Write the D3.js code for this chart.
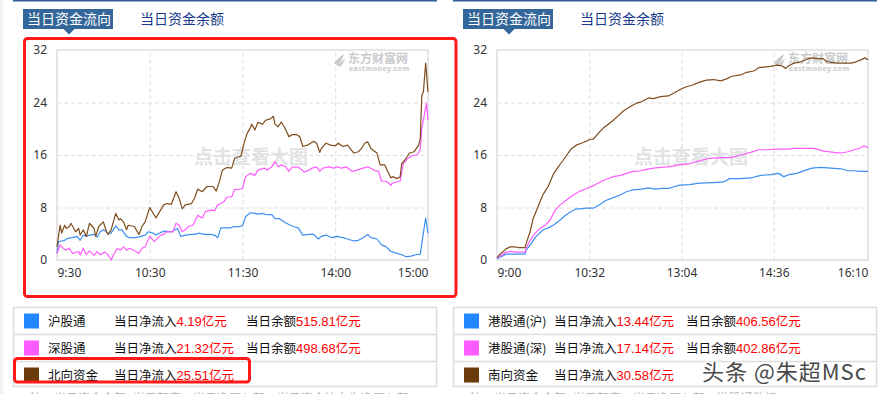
<!DOCTYPE html>
<html>
<head>
<meta charset="utf-8">
<script src="https://cdn.jsdelivr.net/npm/d3@7"></script>
<style>
body { margin: 0; background: #fff; }
svg { display: block; }
</style>
</head>
<body>
<script>
/* Data (x = minutes since the session opened, lunch break removed)
***********************************************************************/
var yTicks = [0, 8, 16, 24, 32];

var northTickMins = [0, 60, 120, 180, 240];
var northTickLabels = ["9:30", "10:30", "11:30", "14:00", "15:00"];
var southTickMins = [0, 92, 184, 276, 370];
var southTickLabels = ["9:00", "10:32", "13:04", "14:36", "16:10"];

// 沪股通
var shFlow = [[0,1.0],[1,2.8],[3,2.9],[5,3.0],[7,3.3],[10,3.4],[13,3.6],[15,3.0],[17,3.8],[19,3.6],[21,3.8],[24,3.9],[26,3.5],[28,4.3],[30,4.6],[32,4.3],[33,4.0],[35,4.1],[38,5.2],[40,4.6],[42,4.6],[45,3.6],[47,3.4],[51,3.4],[54,3.6],[57,3.8],[59,4.3],[62,4.1],[64,3.8],[67,4.2],[70,4.4],[74,4.3],[78,4.8],[80,3.6],[83,3.8],[87,3.9],[89,3.9],[92,4.1],[95,3.9],[99,3.9],[102,3.8],[104,3.4],[106,4.9],[108,4.9],[112,4.9],[115,5.1],[118,5.1],[120,5.2],[122,6.6],[125,7.2],[128,7.1],[130,7.0],[133,7.1],[136,6.9],[139,6.9],[141,6.3],[144,6.3],[147,5.8],[150,5.4],[153,5.1],[156,4.9],[159,3.8],[163,3.9],[166,3.9],[169,3.2],[171,3.6],[174,3.8],[178,3.4],[181,3.6],[185,3.4],[188,3.2],[192,2.9],[195,3.0],[198,3.4],[201,3.9],[203,3.4],[207,3.2],[210,2.3],[213,2.0],[216,1.3],[220,1.0],[223,0.8],[226,0.5],[229,0.6],[232,0.8],[235,0.9],[237,4.1],[238.5,6.4],[240,4.1]];

// 深股通
var szFlow = [[0,1.0],[2,2.3],[4,1.8],[6,1.5],[8,1.8],[10,1.0],[14,1.3],[15,0.8],[17,1.8],[19,0.8],[21,1.4],[24,0.7],[26,1.3],[28,0.8],[31,1.2],[33,0.8],[35,0.0],[37,1.0],[39,1.8],[41,1.5],[43,2.0],[45,1.5],[47,1.8],[51,1.3],[53,1.0],[55,1.8],[57,2.0],[60,3.6],[63,2.8],[65,3.3],[67,3.8],[69,3.9],[71,4.3],[75,4.3],[77,5.6],[79,5.3],[81,4.3],[83,4.6],[85,5.1],[88,5.3],[91,6.8],[94,6.4],[96,7.4],[100,7.6],[102,7.5],[104,8.4],[106,8.6],[108,8.9],[110,9.6],[113,9.6],[115,10.8],[117,10.7],[120,10.9],[122,12.7],[125,13.2],[128,12.9],[130,13.7],[134,14.0],[136,13.7],[139,14.2],[141,15.0],[143,14.2],[145,14.5],[148,14.2],[150,13.5],[152,14.1],[155,14.2],[157,14.0],[160,13.4],[163,13.7],[165,14.0],[168,14.2],[170,13.5],[172,14.0],[176,14.2],[179,14.0],[181,14.2],[184,14.0],[187,14.2],[191,13.5],[194,13.7],[198,14.0],[201,14.2],[205,13.7],[208,13.5],[210,12.0],[213,12.0],[216,11.4],[217,11.7],[221,12.0],[222,12.0],[224,14.7],[227,15.5],[230,15.9],[233,16.0],[235,16.8],[236,20.1],[238,22.6],[239,23.9],[240,21.3]];

// 北向资金
var northFlow = [[0,2.0],[2,5.3],[3,4.1],[5,5.3],[6,4.8],[8,5.1],[9,5.6],[12,4.3],[14,4.8],[15,3.8],[17,4.6],[19,3.6],[21,5.6],[24,4.8],[25,3.6],[27,5.1],[30,5.8],[32,4.3],[33,3.9],[35,4.6],[38,7.1],[40,6.1],[41,6.3],[43,5.8],[45,4.6],[46,5.3],[50,5.1],[53,3.9],[55,5.1],[57,5.8],[60,8.0],[64,6.4],[67,7.6],[69,8.4],[71,8.6],[74,8.5],[77,10.4],[79,9.4],[81,7.8],[83,8.4],[87,8.6],[89,9.4],[91,10.8],[94,10.4],[97,11.2],[101,11.2],[103,10.5],[105,11.9],[107,13.7],[110,14.1],[113,14.0],[115,15.5],[117,15.7],[119,15.8],[121,17.8],[123,19.3],[125,20.1],[126,20.7],[128,19.8],[130,21.0],[133,20.7],[135,21.3],[138,21.5],[140,21.9],[141,20.7],[143,20.3],[145,21.0],[147,20.3],[149,19.3],[150,18.8],[152,19.1],[155,19.1],[157,18.8],[159,17.3],[162,17.5],[164,17.8],[166,18.1],[168,17.8],[170,16.4],[171,17.0],[174,17.8],[177,17.5],[180,17.4],[182,17.8],[185,17.3],[188,17.5],[192,16.3],[195,16.5],[197,17.0],[199,17.8],[201,18.0],[203,17.0],[207,16.3],[209,14.5],[212,14.5],[214,13.5],[216,12.5],[217,12.7],[220,12.4],[222,12.7],[223,14.7],[225,15.2],[228,16.3],[231,16.5],[234,17.5],[235,18.5],[236,25.1],[237,25.6],[238.5,30.0],[240,25.6]];

// 港股通(沪)
var hkshFlow = [[0,0.2],[4,0.5],[9,0.9],[16,0.9],[28,0.9],[29,1.5],[34,2.5],[39,3.6],[46,4.6],[51,4.9],[56,5.3],[63,6.1],[69,6.9],[74,7.4],[79,7.8],[84,7.8],[89,7.9],[96,7.9],[103,8.5],[109,9.1],[116,9.5],[123,9.9],[129,10.4],[136,10.7],[144,10.8],[151,11.0],[158,10.8],[164,10.9],[171,10.9],[182,11.4],[192,11.5],[202,11.7],[216,11.8],[226,11.9],[232,12.4],[242,12.4],[253,12.5],[263,12.9],[273,13.0],[281,13.2],[286,12.7],[291,13.0],[299,13.2],[308,13.7],[314,14.0],[323,14.1],[333,14.0],[343,13.9],[350,13.6],[356,13.6],[363,13.5],[370,13.5]];

// 港股通(深)
var hkszFlow = [[0,0.3],[4,0.7],[9,1.2],[14,1.3],[19,1.2],[28,1.2],[29,1.8],[33,3.0],[38,4.1],[43,4.8],[48,5.3],[53,6.1],[58,7.6],[63,8.4],[69,9.1],[76,9.9],[83,10.5],[89,10.9],[96,11.3],[103,11.9],[109,12.3],[116,12.7],[123,12.9],[129,13.2],[136,13.5],[143,13.6],[149,13.8],[156,14.0],[163,14.1],[171,14.2],[182,14.5],[192,14.7],[202,15.1],[212,15.5],[223,15.6],[233,15.6],[243,16.0],[253,16.4],[261,16.8],[269,16.8],[279,16.9],[289,16.9],[296,17.0],[306,17.0],[316,17.0],[326,16.6],[336,16.4],[343,16.3],[350,16.5],[356,16.8],[363,17.1],[366,17.4],[370,17.1]];

// 南向资金
var southFlow = [[0,0.4],[4,1.0],[9,1.7],[13,2.0],[18,2.0],[21,1.9],[28,1.9],[29,2.5],[33,4.3],[36,6.3],[39,7.4],[43,8.9],[46,10.0],[51,11.2],[56,13.0],[61,14.2],[66,15.2],[71,16.3],[74,16.9],[79,17.5],[84,17.8],[89,18.1],[93,18.4],[96,18.4],[101,19.3],[106,20.1],[111,20.7],[116,21.3],[121,22.0],[126,22.7],[133,23.4],[139,23.9],[144,24.1],[151,24.7],[156,24.6],[163,24.9],[171,25.0],[176,25.4],[184,26.1],[189,26.4],[196,26.7],[202,27.1],[209,27.4],[216,27.5],[223,27.3],[229,27.6],[234,28.0],[243,28.2],[249,28.6],[256,28.8],[261,29.3],[266,29.4],[273,29.5],[279,29.7],[284,29.6],[288,29.2],[291,29.6],[296,30.0],[303,30.2],[309,30.6],[314,30.8],[320,30.7],[325,30.7],[328,30.3],[333,30.1],[340,30.0],[346,30.0],[353,30.0],[358,30.2],[363,30.5],[367,30.8],[370,30.5]];

// legend rows
var northNames = ["沪股通", "深股通", "北向资金"];
var northNet = ["4.19", "21.32", "25.51"];
var northBal = ["515.81", "498.68", null];
var southNames = ["港股通(沪)", "港股通(深)", "南向资金"];
var southNet = ["13.44", "17.14", "30.58"];
var southBal = ["406.56", "402.86", null];

var tabLabels = ["当日资金流向", "当日资金余额"];


/* Styles
***********************************************************************/
var svgW = 882;
var svgH = 394;
var lineColors = ["#3d8ff0", "#ff5cff", "#7e4d1e"];
var swatchColors = ["#2388ff", "#ff5cff", "#6b3a0a"];
var cjk = "'Noto Sans CJK SC', 'Noto Sans', sans-serif";
var latin = "'Noto Sans', 'DejaVu Sans', sans-serif";

var plotL = 57, plotR = 428, plotT = 50, plotB = 260;

var svg = d3.select("body").append("svg")
	.attr("width", svgW)
	.attr("height", svgH);

// light strip at the page's left edge
svg.append("rect")
	.attr("x", 0).attr("y", 0)
	.attr("width", 3).attr("height", svgH)
	.attr("fill", "#eef1f6");

var yScale = d3.scaleLinear().domain([0, 32]).range([plotB, plotT]);


/* Draw one panel (tabs, chart, legend table)
***********************************************************************/
function drawPanel(ox, cfg) {
	var g = svg.append("g").attr("transform", "translate(" + ox + ",0)");

	// header line
	g.append("rect")
		.attr("x", 13).attr("y", 0)
		.attr("width", 424).attr("height", 1.5)
		.attr("fill", "#2f5d96");

	// tabs
	g.append("rect")
		.attr("x", 23).attr("y", 9)
		.attr("width", 90).attr("height", 20)
		.attr("fill", "#336699");
	g.append("path")
		.attr("d", "M63.5,29L74.5,29L69,34.5Z")
		.attr("fill", "#336699");
	g.append("text")
		.attr("x", 27).attr("y", 24)
		.attr("font-family", cjk)
		.attr("font-size", "14px")
		.attr("fill", "#fff")
		.text(tabLabels[0]);
	g.append("text")
		.attr("x", 140).attr("y", 24)
		.attr("font-family", cjk)
		.attr("font-size", "14px")
		.attr("fill", "#173c8c")
		.text(tabLabels[1]);

	var xScale = d3.scaleLinear().domain([0, cfg.tickMins[cfg.tickMins.length - 1]]).range([plotL, plotR]);

	// horizontal grid
	g.append("g")
		.attr("transform", "translate(" + plotL + ",0)")
		.call(d3.axisLeft(yScale).tickValues(yTicks.slice(1, 4)).tickSize(-(plotR - plotL)).tickFormat(""))
		.call(function(a) {
			a.select(".domain").remove();
			a.selectAll("line").attr("stroke", "#dedede").attr("stroke-dasharray", "4,3");
		});

	// vertical grid
	g.append("g")
		.attr("transform", "translate(0," + plotB + ")")
		.call(d3.axisBottom(xScale).tickValues(cfg.tickMins.slice(1, 4)).tickSize(-(plotB - plotT)).tickFormat(""))
		.call(function(a) {
			a.select(".domain").remove();
			a.selectAll("line").attr("stroke", "#dedede").attr("stroke-dasharray", "4,3");
		});

	// watermarks
	g.append("text")
		.attr("x", 251).attr("y", 164)
		.attr("text-anchor", "middle")
		.attr("font-family", cjk)
		.attr("font-weight", "bold")
		.attr("font-size", "19px")
		.attr("fill", "#e2e3e5")
		.text("点击查看大图");

	var logo = g.append("g").attr("transform", "translate(334,54)");
	logo.append("path")
		.attr("d", "M0,9 C3,5 7,2 10,0 C9,4 7,8 4,12 C6,9 9,6 11,5 C10,8 8,11 6,13 Z")
		.attr("fill", "#c9cacc");
	logo.append("text")
		.attr("x", 14).attr("y", 9)
		.attr("font-family", cjk)
		.attr("font-weight", "bold")
		.attr("font-size", "12px")
		.attr("fill", "#c9cacc")
		.text("东方财富网");
	logo.append("text")
		.attr("x", 15).attr("y", 17)
		.attr("font-family", latin)
		.attr("font-weight", "bold")
		.attr("font-size", "7px")
		.attr("fill", "#c9cacc")
		.attr("letter-spacing", "0.4px")
		.text("eastmoney.com");

	// frame
	g.append("rect")
		.attr("x", plotL).attr("y", plotT)
		.attr("width", plotR - plotL).attr("height", plotB - plotT)
		.attr("fill", "none")
		.attr("stroke", "#cccccc");

	// lines
	var line = d3.line()
		.x(function(d) { return xScale(d[0]); })
		.y(function(d) { return yScale(d[1]); });
	cfg.series.forEach(function(s, i) {
		g.append("path")
			.attr("d", line(s))
			.attr("fill", "none")
			.attr("stroke", lineColors[i])
			.attr("stroke-width", 1.2)
			.attr("stroke-linejoin", "round");
	});

	// y labels
	g.append("g")
		.attr("transform", "translate(47,0)")
		.call(d3.axisLeft(yScale).tickValues(yTicks).tickSize(0).tickPadding(0))
		.call(function(a) {
			a.select(".domain").remove();
			a.selectAll("text")
				.attr("font-family", latin)
				.attr("font-size", "12px")
				.attr("fill", "#333");
		});

	// x labels
	g.append("g")
		.attr("transform", "translate(0," + (plotB + 8) + ")")
		.call(d3.axisBottom(xScale).tickValues(cfg.tickMins).tickSize(0).tickPadding(0)
			.tickFormat(function(d, i) { return cfg.tickLabels[i]; }))
		.call(function(a) {
			a.select(".domain").remove();
			a.selectAll("text")
				.attr("font-family", latin)
				.attr("font-size", "12px")
				.attr("fill", "#333")
				.attr("text-anchor", function(d, i) { return i == 0 ? "start" : (i == cfg.tickMins.length - 1 ? "end" : "middle"); });
		});

	// legend table
	var rowTop = [307, 334, 361];
	g.append("rect")
		.attr("x", 13.5).attr("y", 307.5)
		.attr("width", 423).attr("height", 79)
		.attr("fill", "none")
		.attr("stroke", "#dddddd")
		.attr("stroke-width", 1.5);
	[334.5, 361.5].forEach(function(y) {
		g.append("line")
			.attr("x1", 13.5).attr("x2", 436.5)
			.attr("y1", y).attr("y2", y)
			.attr("stroke", "#dddddd")
			.attr("stroke-width", 1.5);
	});

	cfg.names.forEach(function(name, i) {
		var cy = rowTop[i] + 14;
		g.append("rect")
			.attr("x", 24).attr("y", cy - 7.5)
			.attr("width", 15).attr("height", 15)
			.attr("fill", swatchColors[i]);
		g.append("text")
			.attr("x", 48).attr("y", cy + 4.5)
			.attr("font-family", cjk)
			.attr("font-size", "12.5px")
			.attr("fill", "#111")
			.text(name);

		var t = g.append("text")
			.attr("x", 114).attr("y", cy + 4.5)
			.attr("font-family", cjk)
			.attr("font-size", "12.5px")
			.attr("fill", "#111");
		t.append("tspan").text("当日净流入");
		t.append("tspan").attr("fill", "#ff0000").attr("font-family", "'Liberation Sans', sans-serif").attr("font-size", "13px").text(cfg.net[i]);
		t.append("tspan").attr("fill", "#ff0000").text("亿元");

		if (cfg.bal[i] != null) {
			var b = g.append("text")
				.attr("x", 246).attr("y", cy + 4.5)
				.attr("font-family", cjk)
				.attr("font-size", "12.5px")
				.attr("fill", "#111");
			b.append("tspan").text("当日余额");
			b.append("tspan").attr("fill", "#ff0000").attr("font-family", "'Liberation Sans', sans-serif").attr("font-size", "13px").text(cfg.bal[i]);
			b.append("tspan").attr("fill", "#ff0000").text("亿元");
		}
	});

	// note under the table, only its top shows at the picture's edge
	g.append("text")
		.attr("x", 30).attr("y", 403)
		.attr("font-family", cjk)
		.attr("font-size", "12px")
		.attr("fill", "#b5b5b5")
		.text(cfg.note);
}

drawPanel(0, {
	tickMins: northTickMins,
	tickLabels: northTickLabels,
	series: [shFlow, szFlow, northFlow],
	names: northNames,
	net: northNet,
	bal: northBal,
	note: "注：当日资金余额=当日额度－当日净买入额，当日资金流向为净买入额"
});

drawPanel(440, {
	tickMins: southTickMins,
	tickLabels: southTickLabels,
	series: [hkshFlow, hkszFlow, southFlow],
	names: southNames,
	net: southNet,
	bal: southBal,
	note: "注：当日资金余额=当日额度－当日净买入额，港股通数据"
});


/* Highlights and overlay
***********************************************************************/
svg.append("rect")
	.attr("x", 24.5).attr("y", 38.5)
	.attr("width", 431.5).attr("height", 258)
	.attr("rx", 3)
	.attr("fill", "none")
	.attr("stroke", "#ff1a1a")
	.attr("stroke-width", 3);

svg.append("rect")
	.attr("x", 14.5).attr("y", 358.5)
	.attr("width", 235).attr("height", 23.5)
	.attr("rx", 3)
	.attr("fill", "none")
	.attr("stroke", "#ff1a1a")
	.attr("stroke-width", 3);

svg.append("text")
	.attr("x", 702).attr("y", 380)
	.attr("font-family", cjk)
	.attr("font-size", "22px")
	.attr("fill", "#4a4a4a")
	.attr("stroke", "#ffffff")
	.attr("stroke-width", 3)
	.attr("paint-order", "stroke")
	.attr("letter-spacing", "1px")
	.text("头条 @朱超MSc");
</script>
</body>
</html>
